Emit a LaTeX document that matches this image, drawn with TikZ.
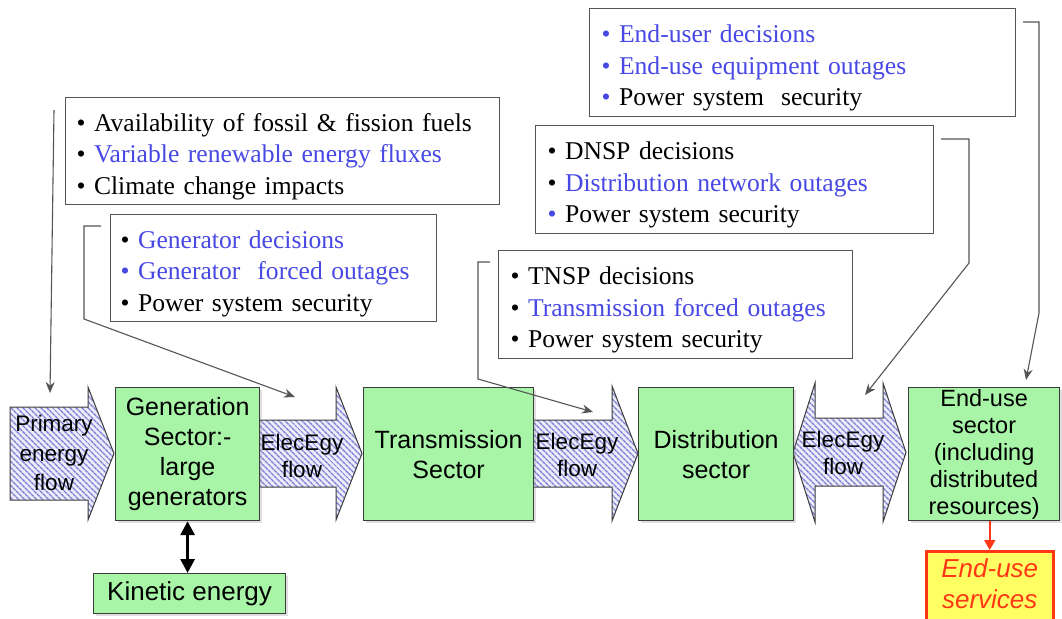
\documentclass[tikz,border=0pt]{standalone}
\usepackage{fontspec}
\setmainfont{Liberation Serif}
\setsansfont{Liberation Sans}
\usetikzlibrary{arrows.meta,patterns.meta,shadows}
\definecolor{grn}{RGB}{168,245,168}
\definecolor{blu}{RGB}{72,72,228}
\definecolor{edge}{RGB}{60,60,60}
\definecolor{lnk}{RGB}{85,85,85}
\definecolor{hatchc}{RGB}{125,125,210}
\definecolor{hatchbg}{RGB}{236,236,250}
\definecolor{redc}{RGB}{255,55,20}
\definecolor{yel}{RGB}{255,255,100}
\newcommand{\bu}{\textbullet\ }
\newcommand{\bbu}{\textcolor{blu}{\textbullet}\ }
\newcommand{\topstrut}{\rule{0pt}{29pt}}
\begin{document}
\begin{tikzpicture}[x=1pt,y=-1pt,
 info/.style={draw=lnk, line width=1.1pt, align=left, inner xsep=12pt, inner ysep=0pt,
   anchor=north west, font=\fontsize{25.6}{31.5}\selectfont},
 sector/.style={draw=edge, fill=grn, line width=1.2pt, align=center, inner sep=0pt,
   anchor=north west, font=\sffamily\fontsize{25}{30}\selectfont,
   drop shadow={shadow xshift=2pt, shadow yshift=-2pt, opacity=0.25}},
 flowarrow/.style={draw=edge, line width=1pt, preaction={fill=hatchbg},
   pattern={Lines[angle=-45,distance=4pt,line width=1.5pt]}, pattern color=hatchc},
 flowtext/.style={align=center, inner sep=0pt, font=\sffamily\fontsize{22.5}{27}\selectfont},
 link/.style={draw=lnk, line width=1.1pt, -{Stealth[length=11pt,width=9pt]}},
]
\fill[white] (0,0) rectangle (1062,618);
\useasboundingbox (0,0) rectangle (1062,618);

% ---- information boxes
\node[info, inner xsep=11pt, minimum width=434pt, minimum height=107pt, text width=412pt] (fuel) at (65,97)
 {\topstrut\bu Availability of fossil \& fission fuels\\
  \bu \textcolor{blu}{Variable renewable energy fluxes}\\
  \bu Climate change impacts};
\node[info, inner xsep=10pt, minimum width=326pt, minimum height=107pt, text width=306pt] (gendec) at (110,214)
 {\topstrut\bu \textcolor{blu}{Generator decisions}\\
  \bbu \textcolor{blu}{Generator\ \ forced outages}\\
  \bu Power system security};
\node[info, minimum width=426pt, minimum height=108pt, text width=402pt] (enduser) at (589,8)
 {\topstrut\bbu \textcolor{blu}{End-user decisions}\\
  \bbu \textcolor{blu}{End-use equipment outages}\\
  \bbu Power system\ \ security};
\node[info, minimum width=398pt, minimum height=108pt, text width=374pt] (dnsp) at (535,125)
 {\topstrut\bu DNSP decisions\\
  \bu \textcolor{blu}{Distribution network outages}\\
  \bbu Power system security};
\node[info, minimum width=354pt, minimum height=108pt, text width=330pt] (tnsp) at (498,250)
 {\topstrut\bu TNSP decisions\\
  \bu \textcolor{blu}{Transmission forced outages}\\
  \bu Power system security};

% ---- hatched flow arrows
\draw[flowarrow] (10,407) -- (88,407) -- (88,387) -- (114,453.5) -- (88,520) -- (88,500) -- (10,500) -- cycle;
\draw[flowarrow] (259,420) -- (336,420) -- (336,387) -- (362,453.5) -- (336,520) -- (336,487) -- (259,487) -- cycle;
\draw[flowarrow] (533,420) -- (612,420) -- (612,386) -- (638,453.5) -- (612,521) -- (612,487) -- (533,487) -- cycle;
\draw[flowarrow] (793,452.5) -- (815,383) -- (815,418) -- (883,418) -- (883,383) -- (906,452.5)
   -- (883,522) -- (883,486) -- (815,486) -- (815,522) -- cycle;

% ---- sector boxes
\node[sector, minimum width=144pt, minimum height=133pt] (gen) at (115,387)
 {Generation\\Sector:-\\large\\generators};
\node[sector, minimum width=170pt, minimum height=133pt] (trans) at (363,387)
 {Transmission\\Sector};
\node[sector, minimum width=155pt, minimum height=133pt] (dist) at (638,387)
 {Distribution\\sector};
\node[sector, minimum width=151pt, minimum height=133pt, font=\sffamily\fontsize{23.5}{27}\selectfont] (enduse) at (908,387)
 {End-use\\sector\\(including\\distributed\\resources)};
\node[sector, minimum width=192pt, minimum height=40pt, font=\sffamily\fontsize{26}{30}\selectfont] (kin) at (93,573)
 {Kinetic energy};
\node[draw=redc, fill=yel, line width=2.5pt, align=center, inner sep=0pt, anchor=north west,
   minimum width=127pt, minimum height=70pt, text=redc,
   font=\sffamily\itshape\fontsize{26}{31}\selectfont] (serv) at (925,550)
 {End-use\\services\vphantom{|}};

% ---- flow labels
\node[flowtext, font=\sffamily\fontsize{22.5}{29.5}\selectfont] (prim) at (54,453) {Primary\\energy\\flow};
\node[flowtext] (egy1) at (302,456) {ElecEgy\\flow};
\node[flowtext] (egy2) at (577,455) {ElecEgy\\flow};
\node[flowtext] (egy3) at (843,453) {ElecEgy\\flow};

% ---- connector end points
\coordinate (a0) at (54,110);
\coordinate (a1) at (50,393);
\coordinate (b0) at (101,226);
\coordinate (b1) at (295,397);
\coordinate (e0) at (490,262);
\coordinate (e1) at (593,412);
\coordinate (d0) at (941,139);
\coordinate (d1) at (865,395);
\coordinate (c0) at (1023,22);
\coordinate (c1) at (1026,380);

\draw[link] (a0) -- (a1);
\draw[link] (b0) -- (84,226) -- (84,319) -- (b1);
\draw[link] (e0) -- (478,262) -- (478,379) -- (e1);
\draw[link] (d0) -- (969,139) -- (969,263) -- (d1);
\draw[link] (c0) -- (1039,22) -- (1039,313) -- (c1);

% ---- other arrows
\draw[line width=3pt, {Triangle[length=14pt,width=14pt]}-{Triangle[length=14pt,width=14pt]}]
  (gen.south) -- (gen.south |- kin.north);
\draw[redc, line width=1.6pt, -{Triangle[length=10pt,width=11pt]}]
  (serv.north |- enduse.south) -- (serv.north);
\end{tikzpicture}
\end{document}
